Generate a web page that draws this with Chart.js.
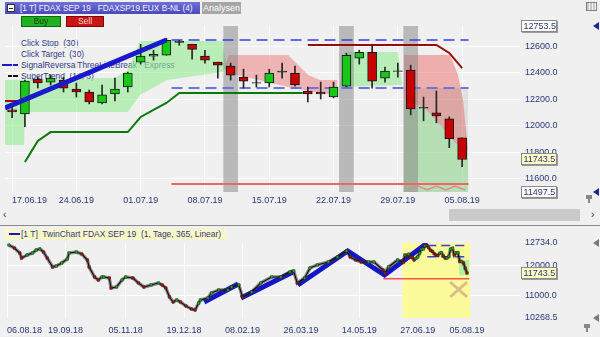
<!DOCTYPE html>
<html><head><meta charset="utf-8">
<script src="https://cdn.jsdelivr.net/npm/chart.js@4.4.0/dist/chart.umd.min.js"></script>
<style>
body{margin:0;width:600px;height:337px;background:#f0f0f0;position:relative;overflow:hidden;font-family:"Liberation Sans",Arial,sans-serif;}
.abs{position:absolute;white-space:nowrap;}
#topc{position:absolute;left:0;top:0;z-index:1}
#botc{position:absolute;left:0;top:228px;z-index:1}
.lg{font-size:9px;line-height:11px;color:#2e3a86;z-index:0;transform-origin:0 50%;transform:scaleX(0.93)}
.hdr{z-index:2}
</style></head>
<body>
<!-- header -->
<div class="abs hdr" style="left:5px;top:2px;width:195px;height:12px;background:linear-gradient(#7070d8,#4a4ab8);"></div>
<div class="abs hdr" style="left:7px;top:4px;width:6px;height:6px;background:#fff;border:1px solid #333;"><div style="position:absolute;left:1px;top:2.5px;width:4px;height:1px;background:#222"></div></div>
<div class="abs hdr" style="left:20px;top:2px;font-size:9.5px;line-height:12px;color:#eef0ff;transform-origin:0 50%;transform:scaleX(0.87)">[1 T] FDAX SEP 19&nbsp;&nbsp;&nbsp;FDAXSP19.EUX B-NL (4)</div>
<div class="abs hdr" style="left:202px;top:2px;width:39px;height:12px;background:#a6a6a6;color:#fff;font-size:9px;line-height:12px;text-align:center">Analysen</div>
<div class="abs hdr" style="left:21px;top:16px;width:38px;height:9px;background:#20b020;border:1px solid #0c6a0c;color:#0a3a0a;font-size:8.5px;line-height:9px;text-align:center">Buy</div>
<div class="abs hdr" style="left:66px;top:16px;width:36px;height:9px;background:#cc1414;border:1px solid #7a0a0a;color:#ffd8d8;font-size:8.5px;line-height:9px;text-align:center">Sell</div>
<div class="abs hdr" style="left:586px;top:2px;width:9px;height:7px;border:1px solid #808080;background:repeating-linear-gradient(90deg,#c8c8c8 0 2px,#f4f4f4 2px 3px)"></div>
<!-- legend (behind the plot) -->
<div class="abs lg" style="left:21px;top:37.5px">Click Stop&nbsp; (30)</div>
<div class="abs lg" style="left:21px;top:48.5px">Click Target&nbsp; (30)</div>
<div class="abs" style="left:2px;top:64px;width:16px;height:2px;background:#1a1acc"></div>
<div class="abs lg" style="left:21px;top:59.5px">SignalReversalThreeLineBreak - Express</div>
<div class="abs" style="left:8px;top:75px;width:10px;height:2px;background:#111"></div>
<div class="abs lg" style="left:21px;top:70.5px">SuperTrend&nbsp; (14, 3)</div>
<!-- scroll bar -->
<div class="abs" style="left:3px;top:209px;font-size:10px;color:#333">&lsaquo;</div>
<div class="abs" style="left:449px;top:209px;width:131px;height:12px;background:#cacaca"></div>
<div class="abs" style="left:591px;top:209px;font-size:10px;color:#333">&rsaquo;</div>
<div class="abs" style="left:0;top:225px;width:600px;height:1px;background:#8a8a8a"></div>
<!-- lower legend -->
<div class="abs" style="left:5px;top:229px;width:221px;height:11px;background:#fbf7c6;z-index:0"></div>
<div class="abs" style="left:9px;top:233px;width:11px;height:2px;background:#1818d0;z-index:0"></div>
<div class="abs lg" style="left:21px;top:229px;transform:scaleX(0.94)">[1 T]&nbsp; TwinChart FDAX SEP 19&nbsp; (1, Tage, 365, Linear)</div>

<canvas id="topc" width="600" height="208"></canvas>
<canvas id="botc" width="600" height="109"></canvas>

<script>
// ================= DATA =================
// --- upper chart: daily candles FDAX SEP 19 ---
const candleDates = ['17.06.19','18.06.19','19.06.19','20.06.19','21.06.19',
  '24.06.19','25.06.19','26.06.19','27.06.19','28.06.19',
  '01.07.19','02.07.19','03.07.19','04.07.19','05.07.19',
  '08.07.19','09.07.19','10.07.19','11.07.19','12.07.19',
  '15.07.19','16.07.19','17.07.19','18.07.19','19.07.19',
  '22.07.19','23.07.19','24.07.19','25.07.19','26.07.19',
  '29.07.19','30.07.19','31.07.19','01.08.19','02.08.19','05.08.19'];
const candleOpen  = [12119,12089,12352,12329,12344,12277,12254,12171,12239,12292,12480,12525,12532,12630,12615,12525,12480,12450,12367,12325,12322,12404,12397,12262,12254,12216,12299,12510,12555,12359,12409,12420,12138,12096,12051,11908];
const candleHigh  = [12141,12345,12367,12382,12367,12322,12269,12307,12359,12404,12615,12570,12660,12645,12615,12570,12480,12472,12427,12382,12427,12472,12450,12292,12329,12329,12547,12570,12608,12442,12472,12457,12216,12262,12066,11908];
const candleLow   = [12059,11991,12284,12307,12254,12216,12164,12164,12186,12254,12465,12495,12532,12608,12502,12472,12359,12344,12284,12292,12292,12359,12299,12179,12201,12209,12292,12465,12284,12329,12367,12081,12036,12021,11833,11690];
const candleClose = [12104,12337,12322,12359,12284,12254,12179,12232,12277,12397,12525,12540,12645,12638,12577,12495,12457,12382,12337,12320,12397,12412,12307,12239,12239,12292,12532,12555,12337,12412,12415,12126,12131,12074,11901,11743.5];
const topTickLabels = ['17.06.19','24.06.19','01.07.19','08.07.19','15.07.19','22.07.19','29.07.19','05.08.19'];
const topYTicks = [11600,11800,12000,12200,12400,12600];
const topMin = 11497.5, topMax = 12753.5, lastPrice = 11743.5;
const topXMin = 0.45, topXMax = 40.5;
// indicator / order levels (x = candle position, y = price)
const signalLine = [[0.45,12133],[13,12648]];
const superTrend = [[2,11724],[3,11883],[4,11951],[10,11951],[11,12065],[12,12118],[13,12171],[14,12246],[23.6,12246]];
const stopLine = [[24,12610],[34,12610],[35,12550],[36,12435]];
const oldStop = [[0.45,12186],[1.5,12186]];
const targetLevel = 12648, entryLevel = 12284, lossLevel = 11558;
const levelFrom = 13.4, levelTo = 36.5;
const signalBars = [18,27,32];
const greenZone1 = [[0.45,12345],[9,12360],[10,12420],[10.95,12640],[17.33,12640],[17.72,12443],[17.33,12405],[13.05,12345],[10.95,12231],[10,12103],[2,12103],[1.93,11853],[0.45,11853]];
const redZone1 = [[17.56,12458],[17.87,12534],[22.46,12534],[24.02,12383],[24.95,12345],[26.27,12345],[26.27,12231],[24.95,12247],[22.46,12292],[17.87,12398],[17.56,12421]];
const greenZone2 = [[26.5,12292],[26.9,12557],[31,12557],[31.33,12307]];
const redZone2 = [[31.48,12534],[35.06,12534],[35.68,12383],[36.07,12194],[36.46,11815],[35.45,11868],[34.28,12004],[33.1,12133],[31.48,12194]];
const greenZone3 = [[31.48,12194],[33.1,12133],[34.28,12004],[35.45,11868],[36.46,11815],[36.46,11497.5],[31.48,11497.5]];
const grayZone = [[31.48,12284],[36.46,12284],[36.46,11497.5],[31.48,11497.5]];
const zigzag = [[31.87,11513],[32.57,11543],[33.27,11513],[33.97,11543],[34.75,11513],[35.45,11543],[36.23,11513]];

// --- lower chart: TwinChart, 1 year of daily closes (x = trading day from 06.08.18) ---
const twinDay = [1,4,7,8,11,14,16,18,20,22,25,27,30,33,34,38,41,44,45,48,50,52,53,56,57,60,63,65,69,72,75,79,83,85,87,89,91,93,95,98,101,103,105,106,110,112,116,121,123,127,129,134,139,145,150,155,157,159,163,166,170,176,181,186,188,191,194,198,201,206,207,209,214];
const twinClose = [12668,12570,12405,12241,12340,12405,12504,12537,12438,12241,11945,11978,12077,12208,12405,12438,12372,12175,11945,11616,11518,11616,11616,11584,11255,11288,11518,11616,11584,11419,11288,11353,11419,11353,11255,10959,10795,10860,10795,10663,10565,10532,10762,10860,10926,11090,11189,11189,11288,11353,10959,11123,11419,11616,11616,11781,11814,11419,11584,11912,12011,12109,12274,12471,12274,12175,12109,12109,12109,11846,11748,11945,12175];
const twinOffset = 216; // candle position 1 (17.06.19) = trading day 217
const twinTickDays = [0,32,65,97,129,161,193,225,252];
const twinTickLabels = ['06.08.18','19.09.18','05.11.18','19.12.18','08.02.19','26.03.19','14.05.19','27.06.19','05.08.19'];
const twinYTicks = [10268.5,11000,12000,12734];
const twinMin = 10268.5, twinMax = 12734, twinXMax = 281;
const trendA = [[108,10795],[126.6,11386]];
const trendB = [[128.2,10926],[156.6,11781]];
const trendC = [[159.3,11353],[186.6,12471],[206.8,11682],[230.2,12734]];
const yellowZone = [[216.6,10268.5],[216.6,12734],[253.7,12734],[253.7,10268.5]];
const greenPatch = [[247.7,12175],[253.2,12175],[253.2,11677],[247.7,11677]];
const twinLevelFrom = 230.2, twinLossFrom = 206.2, twinLevelTo = 253.2;
const crossA = [[242.8,11452],[252,10959]];
const crossB = [[242.8,10959],[252,11452]];

// ================= RENDERING =================
Chart.defaults.font.family = '"Liberation Sans", Arial, sans-serif';
Chart.defaults.font.size = 9;
Chart.defaults.animation = false;
const NAVY = '#283878';
const P = a => a.map(([x,y]) => ({x,y}));
const poly = (d, color, order) => ({type:'line', data:P(d), fill:'shape', backgroundColor:color, borderWidth:0, pointRadius:0, order});
const line = (d, color, w, order, dash) => ({type:'line', data:P(d), borderColor:color, borderWidth:w, pointRadius:0, fill:false, order, borderDash:dash||[], tension:0});

function tri(ctx, x, y, color){ctx.fillStyle=color;ctx.beginPath();ctx.moveTo(x,y);ctx.lineTo(x+6,y-4);ctx.lineTo(x+6,y+4);ctx.closePath();ctx.fill();}
function pin(ctx, x, y){ctx.fillStyle='#888';ctx.fillRect(x,y,6,4);ctx.fillRect(x+2,y+4,2,4);}
function priceBox(ctx, py, txt, bg){
  py = Math.round(py);
  ctx.fillStyle='#9a9a9a'; ctx.fillRect(522,py-5,36,12);
  ctx.fillStyle=bg; ctx.fillRect(521,py-6,35,11);
  ctx.strokeStyle='#8a8a8a'; ctx.lineWidth=1; ctx.strokeRect(521.5,py-5.5,35,11);
  ctx.fillStyle=NAVY; ctx.font='9px "Liberation Sans", Arial'; ctx.textBaseline='middle'; ctx.textAlign='left';
  ctx.fillText(txt,523.5,py+0.5);
}

const bodyColor = candleOpen.map((o,i) => Math.abs(candleClose[i]-o) < 10 ? '#1e4a1e' : (candleClose[i] > o ? '#18c818' : '#c80000'));

const topDecor = {id:'topDecor', afterDraw(chart){
  const ctx = chart.ctx, y = chart.scales.y;
  ctx.save();
  priceBox(ctx, y.getPixelForValue(topMax), topMax.toFixed(1), '#ffffff');
  priceBox(ctx, y.getPixelForValue(topMin), topMin.toFixed(1), '#ffffff');
  priceBox(ctx, y.getPixelForValue(lastPrice), lastPrice.toFixed(1), '#ffffc4');
  tri(ctx, 593, y.getPixelForValue(topMax), '#1a2a8c');
  tri(ctx, 593, y.getPixelForValue(topMin), '#1a2a8c');
  pin(ctx, 586, 195);
  ctx.restore();
}};

new Chart(document.getElementById('topc'), {
  type:'bar',
  data:{datasets:[
    poly(greenZone1,'rgba(150,236,150,0.62)',30),
    poly(redZone1,'rgba(236,120,120,0.5)',30),
    poly(greenZone2,'rgba(150,236,150,0.62)',30),
    poly(redZone2,'rgba(236,120,120,0.55)',30),
    poly(greenZone3,'rgba(160,238,160,0.6)',30),
    poly(grayZone,'rgba(110,120,110,0.14)',29),
    {type:'bar', data:signalBars.map(i=>({x:i,y:[topMin,topMax]})), backgroundColor:'rgba(130,130,130,0.5)', barThickness:14, grouped:false, order:25},
    line(zigzag,'#e38a8a',1.5,20),
    line([[levelFrom,lossLevel],[levelTo,lossLevel]],'#f06464',2,15),
    line([[levelFrom,entryLevel],[levelTo,entryLevel]],'#7272dc',2,15,[11,6]),
    line([[levelFrom,targetLevel],[levelTo,targetLevel]],'#3c3cdc',1.5,15,[11,6]),
    line(superTrend,'#0a7a0a',2,15),
    line(stopLine,'#9a0a0a',2,15),
    line(oldStop,'#9a0a0a',2,15),
    {type:'bar', data:candleDates.map((d,i)=>({x:i+1,y:[candleLow[i],candleHigh[i]]})), backgroundColor:'#262626', barThickness:1, grouped:false, order:5},
    {type:'bar', data:candleDates.map((d,i)=>({x:i+1,y:[candleOpen[i],candleClose[i]]})), backgroundColor:bodyColor, borderColor:'#161616', borderWidth:1, borderSkipped:false, barThickness:9, grouped:false, order:4},
    line(signalLine,'#1a1acc',5,1),
  ]},
  options:{
    responsive:false, devicePixelRatio:1, animation:false,
    layout:{padding:{left:5,top:26,right:0,bottom:0}},
    plugins:{legend:{display:false},tooltip:{enabled:false}},
    scales:{
      x:{type:'linear', min:topXMin, max:topXMax, offset:false, bounds:'data',
        grid:{offset:false, drawTicks:false, color:c=>c.tick && c.tick.label ? 'rgba(255,255,255,0.85)' : 'rgba(0,0,0,0)'},
        border:{display:false},
        afterBuildTicks:s=>{s.ticks = topTickLabels.map(l=>({value:candleDates.indexOf(l)+1})).concat([{value:topXMax}]);},
        afterFit:s=>{s.height=16;},
        ticks:{autoSkip:false, maxRotation:0, align:'inner', padding:3, color:NAVY, font:{size:9},
          callback:v=>{const i=Math.round(v)-1; return (v===i+1 && topTickLabels.includes(candleDates[i])) ? candleDates[i] : '';}}},
      y:{type:'linear', position:'right', min:topMin, max:topMax, bounds:'data', grace:0,
        grid:{drawTicks:false, color:'rgba(255,255,255,0.9)'}, border:{display:false},
        afterBuildTicks:s=>{s.ticks = topYTicks.map(v=>({value:v}));},
        afterFit:s=>{s.width=80;},
        ticks:{padding:5, color:NAVY, font:{size:9}, callback:v=>Number(v).toFixed(1)}}
    }
  },
  plugins:[topDecor]
});

// ---- lower chart ----
const twinX = twinDay.concat(candleDates.map((d,i)=>i+1+twinOffset));
const twinY = twinClose.concat(candleClose);
const twinPts = twinX.map((x,i)=>({x, y:twinY[i]}));
const twinCol = twinY.map((v,i)=> i===0 || v>=twinY[i-1] ? '#14c014' : '#c80000');

const botDecor = {id:'botDecor', afterDraw(chart){
  const ctx = chart.ctx, y = chart.scales.y;
  ctx.save();
  priceBox(ctx, y.getPixelForValue(lastPrice), lastPrice.toFixed(1), '#ffffc4');
  tri(ctx, 593, y.getPixelForValue(twinMax), '#7a7a7a');
  tri(ctx, 593, y.getPixelForValue(twinMin), '#7a7a7a');
  pin(ctx, 584, 96);
  ctx.restore();
}};

new Chart(document.getElementById('botc'), {
  type:'line',
  data:{datasets:[
    poly(yellowZone,'#fbfb9c',30),
    poly(greenPatch,'#b8eea0',29),
    line([[twinLossFrom,lossLevel],[twinLevelTo,lossLevel]],'#f05050',1.5,20),
    line([[twinLevelFrom,targetLevel],[twinLevelTo,targetLevel]],'#3c3cdc',1.5,20,[9,5]),
    line([[twinLevelFrom,entryLevel],[twinLevelTo,entryLevel]],'#3c3cdc',1.5,20,[9,5]),
    line(crossA,'#dcbc8c',3,20),
    line(crossB,'#dcbc8c',3,20),
    line(trendA,'#1414c8',5,15),
    line(trendB,'#1414c8',5,15),
    line(trendC,'#1414c8',5,15),
    {type:'line', data:twinPts, borderColor:'rgba(60,60,60,0.55)', borderWidth:3.5, pointRadius:0, fill:false, order:6, tension:0},
    {type:'line', data:twinPts, borderColor:'#111', borderWidth:1.2, pointRadius:1.7, pointStyle:'rect', pointBackgroundColor:twinCol, pointBorderColor:'#222', pointBorderWidth:0.5, fill:false, order:5, tension:0},
  ]},
  options:{
    responsive:false, devicePixelRatio:1, animation:false,
    layout:{padding:{left:5,top:15,right:0,bottom:0}},
    plugins:{legend:{display:false},tooltip:{enabled:false}},
    scales:{
      x:{type:'linear', min:0, max:twinXMax, offset:false, bounds:'data',
        grid:{drawTicks:false, color:c=>c.tick && c.tick.label ? 'rgba(255,255,255,0.85)' : 'rgba(0,0,0,0)'},
        border:{display:false},
        afterBuildTicks:s=>{s.ticks = twinTickDays.map(v=>({value:v})).concat([{value:twinXMax}]);},
        afterFit:s=>{s.height=19;},
        ticks:{autoSkip:false, maxRotation:0, align:'inner', padding:7, color:NAVY, font:{size:9},
          callback:v=>{const k=twinTickDays.indexOf(v); return k>=0 ? twinTickLabels[k] : '';}}},
      y:{type:'linear', position:'right', min:twinMin, max:twinMax, bounds:'data', grace:0,
        grid:{drawTicks:false, color:c=>c.tick && (c.tick.value===11000||c.tick.value===12000) ? 'rgba(255,255,255,0.95)' : 'rgba(0,0,0,0)'},
        border:{display:false},
        afterBuildTicks:s=>{s.ticks = twinYTicks.map(v=>({value:v}));},
        afterFit:s=>{s.width=80;},
        ticks:{padding:5, color:NAVY, font:{size:9}, callback:v=>Number(v).toFixed(1)}}
    }
  },
  plugins:[botDecor]
});
</script>
</body></html>
